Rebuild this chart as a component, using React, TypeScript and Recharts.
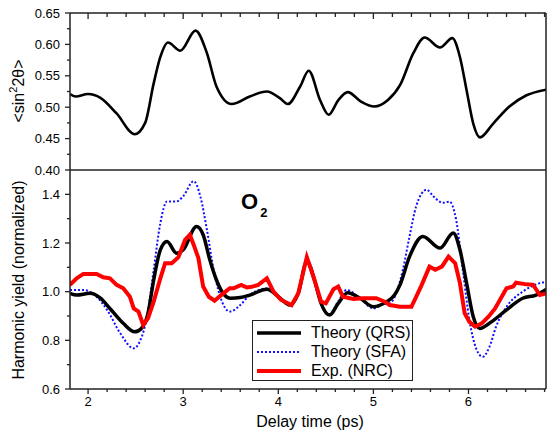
import { Legend, Line, LineChart, XAxis, YAxis, Customized } from 'recharts';

const FONT = '"Liberation Sans", Arial, sans-serif';

// x range of both panels (ps)
const X_DOMAIN: [number, number] = [1.81, 6.815];
const X_MAJOR = [2, 3, 4, 5, 6];
const X_TICKS = [2, 2.2, 2.4, 2.6, 2.8, 3, 3.2, 3.4, 3.6, 3.8, 4, 4.2, 4.4, 4.6, 4.8, 5, 5.2, 5.4, 5.6, 5.8, 6, 6.2, 6.4, 6.6, 6.8];

// top panel: <sin^2 2theta>
const TOP_MAJOR = [0.4, 0.45, 0.5, 0.55, 0.6, 0.65];
const TOP_TICKS = [0.4, 0.425, 0.45, 0.475, 0.5, 0.525, 0.55, 0.575, 0.6, 0.625, 0.65];
const alignX = [1.81, 1.87, 2.0, 2.13, 2.3, 2.49, 2.6, 2.69, 2.76, 2.84, 2.97, 3.13, 3.25, 3.35, 3.51, 3.7, 3.88, 4.02, 4.1, 4.23, 4.32, 4.44, 4.53, 4.63, 4.73, 4.87, 5.01, 5.15, 5.28, 5.42, 5.54, 5.7, 5.83, 5.91, 5.98, 6.05, 6.12, 6.26, 6.43, 6.61, 6.82];
const alignY = [0.521, 0.517, 0.521, 0.515, 0.49, 0.457, 0.475, 0.538, 0.58, 0.603, 0.59, 0.622, 0.586, 0.533, 0.505, 0.517, 0.525, 0.514, 0.505, 0.533, 0.558, 0.511, 0.488, 0.511, 0.524, 0.509, 0.501, 0.511, 0.535, 0.586, 0.611, 0.595, 0.61, 0.58, 0.527, 0.474, 0.452, 0.474, 0.501, 0.519, 0.528];

// bottom panel: harmonic yield
const BOT_MAJOR = [0.6, 0.8, 1.0, 1.2, 1.4];
const BOT_TICKS = [0.6, 0.7, 0.8, 0.9, 1.0, 1.1, 1.2, 1.3, 1.4];

const qrsX = [1.81, 1.88, 2.02, 2.13, 2.23, 2.37, 2.49, 2.56, 2.63, 2.69, 2.76, 2.83, 2.93, 3.0, 3.14, 3.21, 3.28, 3.35, 3.42, 3.5, 3.6, 3.7, 3.88, 4.02, 4.12, 4.21, 4.3, 4.38, 4.45, 4.54, 4.63, 4.73, 4.86, 5.0, 5.14, 5.22, 5.28, 5.38, 5.52, 5.7, 5.84, 5.91, 5.98, 6.05, 6.12, 6.22, 6.4, 6.57, 6.71, 6.82];
const qrsY = [0.993, 0.986, 0.993, 0.973, 0.931, 0.87, 0.835, 0.849, 0.911, 1.048, 1.172, 1.206, 1.158, 1.172, 1.268, 1.234, 1.131, 1.048, 0.993, 0.973, 0.976, 0.986, 1.01, 0.973, 0.945, 0.993, 1.124, 1.048, 0.952, 0.904, 0.952, 0.996, 0.973, 0.938, 0.959, 0.985, 1.028, 1.144, 1.227, 1.179, 1.241, 1.172, 1.035, 0.897, 0.849, 0.87, 0.925, 0.973, 0.986, 1.01];

const sfaX = [1.81, 1.95, 2.09, 2.2, 2.34, 2.48, 2.55, 2.62, 2.69, 2.76, 2.83, 2.93, 3.0, 3.11, 3.18, 3.25, 3.32, 3.39, 3.49, 3.6, 3.7, 3.88, 4.02, 4.12, 4.21, 4.3, 4.38, 4.45, 4.54, 4.63, 4.72, 4.86, 5.0, 5.1, 5.17, 5.24, 5.31, 5.38, 5.45, 5.56, 5.63, 5.73, 5.8, 5.87, 5.94, 6.01, 6.08, 6.15, 6.22, 6.29, 6.4, 6.57, 6.75, 6.82];
const sfaY = [1.007, 1.007, 0.979, 0.925, 0.828, 0.767, 0.801, 0.897, 1.09, 1.282, 1.371, 1.371, 1.392, 1.454, 1.392, 1.254, 1.09, 0.979, 0.918, 0.945, 0.986, 1.013, 0.973, 0.945, 0.993, 1.131, 1.062, 0.952, 0.908, 0.96, 1.007, 0.973, 0.931, 0.948, 0.952, 0.993, 1.09, 1.227, 1.351, 1.419, 1.392, 1.365, 1.37, 1.296, 1.09, 0.883, 0.767, 0.732, 0.773, 0.856, 0.938, 1.0, 1.035, 1.041];

const nrcX = [1.81, 1.88, 1.95, 2.09, 2.16, 2.23, 2.3, 2.37, 2.44, 2.48, 2.53, 2.58, 2.63, 2.69, 2.76, 2.81, 2.88, 2.95, 3.02, 3.07, 3.11, 3.16, 3.21, 3.27, 3.33, 3.4, 3.49, 3.53, 3.61, 3.67, 3.72, 3.79, 3.88, 3.95, 4.03, 4.14, 4.21, 4.3, 4.37, 4.45, 4.5, 4.58, 4.63, 4.68, 4.79, 4.89, 5.03, 5.12, 5.17, 5.28, 5.4, 5.5, 5.59, 5.65, 5.72, 5.79, 5.86, 5.91, 5.96, 6.01, 6.07, 6.14, 6.21, 6.28, 6.33, 6.4, 6.47, 6.5, 6.61, 6.68, 6.75, 6.82];
const nrcY = [1.028, 1.055, 1.073, 1.073, 1.059, 1.055, 1.028, 1.014, 0.979, 0.931, 0.918, 0.863, 0.89, 0.959, 1.055, 1.117, 1.117, 1.142, 1.213, 1.234, 1.193, 1.138, 1.021, 0.979, 0.963, 0.986, 1.014, 1.014, 1.028, 1.017, 1.02, 1.028, 1.055, 1.0, 0.966, 0.945, 0.993, 1.142, 1.062, 0.959, 0.952, 1.01, 1.021, 0.979, 0.97, 0.973, 0.973, 0.959, 0.945, 0.938, 0.938, 1.021, 1.103, 1.09, 1.103, 1.144, 1.117, 1.035, 0.911, 0.876, 0.856, 0.87, 0.897, 0.931, 0.966, 1.014, 1.021, 1.037, 1.03, 1.028, 0.986, 0.993];

const toPoints = (xs: number[], ys: number[]) => xs.map((x, i) => ({ x, y: ys[i] }));

const AXIS = '#222';
const isIn = (list: number[], v: number) => list.some((m) => Math.abs(m - v) < 1e-6);

function LeftTick(props: any) {
  const { x, y, payload, majors, digits } = props;
  const major = isIn(majors, payload.value);
  return (
    <g>
      <line x1={x - (major ? 5 : 3)} x2={x} y1={y} y2={y} stroke={AXIS} strokeWidth={1.3} />
      {major && (
        <text x={x - 10} y={y} dy="0.36em" textAnchor="end" fontSize={13} fontFamily={FONT} fill="#000">
          {payload.value.toFixed(digits)}
        </text>
      )}
    </g>
  );
}

function BottomTick(props: any) {
  const { x, y, payload } = props;
  const major = isIn(X_MAJOR, payload.value);
  return (
    <g>
      <line x1={x} x2={x} y1={y} y2={y + (major ? 5 : 3)} stroke={AXIS} strokeWidth={1.3} />
      {major && (
        <text x={x} y={y + 17} textAnchor="middle" fontSize={13} fontFamily={FONT} fill="#000">
          {payload.value}
        </text>
      )}
    </g>
  );
}

function InnerTopTick(props: any) {
  const { x, y, payload } = props;
  const major = isIn(X_MAJOR, payload.value);
  return <line x1={x} x2={x} y1={y} y2={y + (major ? 6 : 4)} stroke={AXIS} strokeWidth={1.3} />;
}

function LegendBox() {
  const rows = [
    { name: 'Theory (QRS)', color: '#000', width: 3.5, dash: undefined },
    { name: 'Theory (SFA)', color: '#1010ff', width: 2, dash: '2 2' },
    { name: 'Exp. (NRC)', color: '#ff0000', width: 4, dash: undefined },
  ];
  return (
    <div
      style={{
        width: 161,
        height: 61,
        boxSizing: 'border-box',
        border: `1.5px solid ${AXIS}`,
        background: '#fff',
        paddingTop: 2,
        fontFamily: FONT,
        fontSize: 16,
      }}
    >
      {rows.map((r) => (
        <div key={r.name} style={{ display: 'flex', alignItems: 'center', height: 19.3, whiteSpace: 'nowrap' }}>
          <svg width={52} height={10} style={{ marginLeft: 3 }}>
            <line x1={1} x2={45} y1={5} y2={5} stroke={r.color} strokeWidth={r.width} strokeDasharray={r.dash} />
          </svg>
          <span style={{ marginLeft: 3, color: '#000' }}>{r.name}</span>
        </div>
      ))}
    </div>
  );
}

export default function App() {
  return (
    <div style={{ position: 'absolute', left: 0, top: 0, width: 547, height: 434, background: '#fff' }}>
      <div style={{ position: 'absolute', left: 0, top: 160 }}>
        <LineChart width={547} height={274} margin={{ top: 0, right: 0, bottom: 0, left: 0 }}>
          <XAxis
            xAxisId="t"
            type="number"
            orientation="top"
            height={10}
            domain={X_DOMAIN}
            allowDataOverflow
            ticks={X_TICKS}
            interval={0}
            tickSize={0}
            tickMargin={0}
            tick={(p: any) => <InnerTopTick {...p} />}
            axisLine={{ stroke: AXIS, strokeWidth: 1.5 }}
          />
          <XAxis
            type="number"
            dataKey="x"
            height={45}
            domain={X_DOMAIN}
            allowDataOverflow
            ticks={X_TICKS}
            interval={0}
            tickSize={0}
            tickMargin={0}
            tick={(p: any) => <BottomTick {...p} />}
            axisLine={{ stroke: AXIS, strokeWidth: 1.5 }}
            label={{
              content: () => (
                <text x={310} y={267} textAnchor="middle" fontSize={16} fontFamily={FONT} fill="#000">
                  Delay time (ps)
                </text>
              ),
            }}
          />
          <YAxis
            type="number"
            width={70}
            domain={[0.6, 1.5]}
            allowDataOverflow
            ticks={BOT_TICKS}
            interval={0}
            tickSize={0}
            tickMargin={0}
            tick={(p: any) => <LeftTick {...p} majors={BOT_MAJOR} digits={1} />}
            axisLine={{ stroke: AXIS, strokeWidth: 1.5 }}
            label={{
              content: () => (
                <text transform="translate(24,120) rotate(-90)" textAnchor="middle" fontSize={16} fontFamily={FONT} fill="#000">
                  Harmonic yield (normalized)
                </text>
              ),
            }}
          />
          <YAxis yAxisId="r" orientation="right" width={1} tick={false} axisLine={{ stroke: AXIS, strokeWidth: 1.5 }} />
          <Customized
            component={() => (
              <text x={241} y={49} fontFamily={FONT} fontWeight="bold" fontSize={22} fill="#000">
                O<tspan fontSize={13} dx={2} dy={8}>2</tspan>
              </text>
            )}
          />
          <Line
            data={toPoints(sfaX, sfaY)}
            dataKey="y"
            type="monotone"
            stroke="#1010ff"
            strokeWidth={2}
            strokeDasharray="2 2"
            dot={false}
            isAnimationActive={false}
          />
          <Line
            data={toPoints(qrsX, qrsY)}
            dataKey="y"
            type="monotone"
            stroke="#000"
            strokeWidth={3.5}
            dot={false}
            isAnimationActive={false}
          />
          <Line
            data={toPoints(nrcX, nrcY)}
            dataKey="y"
            type="linear"
            stroke="#ff0000"
            strokeWidth={4}
            dot={false}
            isAnimationActive={false}
          />
          <Legend
            layout="vertical"
            align="center"
            verticalAlign="middle"
            wrapperStyle={{ left: 252, top: 160, width: 161, height: 61 }}
            content={() => <LegendBox />}
          />
        </LineChart>
      </div>
      <div style={{ position: 'absolute', left: 0, top: 0 }}>
        <LineChart width={547} height={182} margin={{ top: 0, right: 0, bottom: 12, left: 0 }}>
          <XAxis
            type="number"
            dataKey="x"
            orientation="top"
            height={13}
            domain={X_DOMAIN}
            allowDataOverflow
            ticks={X_TICKS}
            interval={0}
            tickSize={0}
            tickMargin={0}
            tick={(p: any) => <InnerTopTick {...p} />}
            axisLine={{ stroke: AXIS, strokeWidth: 1.5 }}
          />
          <YAxis
            type="number"
            width={70}
            domain={[0.4, 0.65]}
            allowDataOverflow
            ticks={TOP_TICKS}
            interval={0}
            tickSize={0}
            tickMargin={0}
            tick={(p: any) => <LeftTick {...p} majors={TOP_MAJOR} digits={2} />}
            axisLine={{ stroke: AXIS, strokeWidth: 1.5 }}
            label={{
              content: () => (
                <text transform="translate(24,91) rotate(-90)" textAnchor="middle" fontSize={16} fontFamily={FONT} fill="#000">
                  {'<sin'}
                  <tspan fontSize={11} dy={-7}>2</tspan>
                  <tspan dy={7}>{'2θ>'}</tspan>
                </text>
              ),
            }}
          />
          <YAxis yAxisId="r" orientation="right" width={1} tick={false} axisLine={{ stroke: AXIS, strokeWidth: 1.5 }} />
          <Line
            data={toPoints(alignX, alignY)}
            dataKey="y"
            type="monotone"
            stroke="#000"
            strokeWidth={2.6}
            dot={false}
            isAnimationActive={false}
          />
        </LineChart>
      </div>
    </div>
  );
}
